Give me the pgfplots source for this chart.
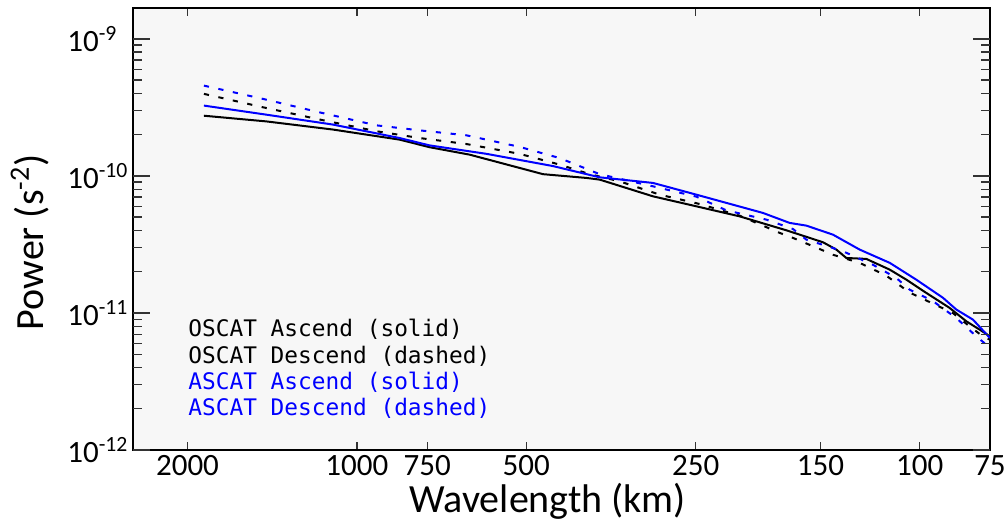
\documentclass[border=0pt]{standalone}
\usepackage{fontspec}
\setmainfont{Carlito}
\newfontfamily\legfont{DejaVu Sans Mono}
\usepackage{pgfplots}
\usepackage{pgfplotstable}
\pgfplotsset{compat=1.18}
\definecolor{bg}{HTML}{F7F7F7}
\definecolor{myblue}{RGB}{0,0,255}

% wavelength lam (km), power P (s^-2); plotted against wavenumber 1/lam

% OSCAT Ascend (solid, black)
\pgfplotstableread{
lam P
1870 2.75e-10
1449 2.50e-10
1103 2.18e-10
839.7 1.84e-10
742.7 1.62e-10
630.5 1.43e-10
467.0 1.03e-10
391.2 9.67e-11
370.4 9.40e-11
297.8 7.10e-11
249.3 6.00e-11
208.9 5.07e-11
172.5 4.01e-11
148.5 3.28e-11
140.6 2.90e-11
135.0 2.52e-11
124.4 2.48e-11
113.0 2.07e-11
105.6 1.75e-11
97.3 1.40e-11
88.5 1.09e-11
82.6 8.69e-12
78.2 7.55e-12
75 6.75e-12
}\oscatasc

% OSCAT Descend (dashed, black)
\pgfplotstableread{
lam P
1870 3.97e-10
1469 3.17e-10
1165 2.58e-10
923.7 2.12e-10
773.6 1.89e-10
639.1 1.71e-10
514.1 1.45e-10
436.3 1.21e-10
385.9 1.03e-10
341.3 9.13e-11
289.7 7.30e-11
246.0 6.24e-11
208.9 5.13e-11
177.3 3.84e-11
167.9 3.53e-11
150.6 2.93e-11
142.6 2.66e-11
127.8 2.32e-11
114.6 1.87e-11
104.2 1.41e-11
94.7 1.17e-11
87.3 1.00e-11
81.5 7.98e-12
77.2 6.75e-12
75 6.38e-12
}\oscatdes

% ASCAT Ascend (solid, blue)
\pgfplotstableread{
lam P
1870 3.26e-10
1449 2.80e-10
1103 2.37e-10
839.7 1.89e-10
742.7 1.67e-10
588.8 1.45e-10
448.3 1.18e-10
370.4 9.77e-11
297.8 8.89e-11
249.3 7.30e-11
189.9 5.37e-11
170.2 4.54e-11
159.0 4.34e-11
142.6 3.73e-11
127.8 2.90e-11
113.0 2.32e-11
101.4 1.75e-11
90.9 1.29e-11
86.1 1.06e-11
80.4 8.94e-12
75 6.57e-12
}\ascatasc

% ASCAT Descend (dashed, blue)
\pgfplotstableread{
lam P
1870 4.56e-10
1469 3.65e-10
1165 2.91e-10
923.7 2.34e-10
773.6 2.15e-10
639.1 1.98e-10
514.1 1.63e-10
436.3 1.35e-10
370.4 1.03e-10
297.8 8.40e-11
249.3 7.06e-11
220.6 5.61e-11
187.3 4.80e-11
167.9 4.10e-11
159.0 3.43e-11
142.6 2.98e-11
135.0 2.75e-11
121.1 2.25e-11
110.0 1.80e-11
104.2 1.48e-11
94.7 1.22e-11
86.1 9.19e-12
79.3 6.75e-12
75 5.58e-12
}\ascatdes

\begin{document}
\begin{tikzpicture}
\begin{axis}[
  at={(0,0)}, anchor=south west, scale only axis,
  width=428.5pt, height=221pt,
  xmode=log, ymode=log,
  xmin=0.0004, xmax=0.0133333, ymin=1e-12, ymax=1.68e-9,
  xtick={0.0005,0.001,0.00133333,0.002,0.004,0.00666667,0.01,0.0133333},
  xticklabels={2000,1000,750,500,250,150,100,75},
  xminorticks=false,
  ytick={1e-12,1e-11,1e-10,1e-9},
  yticklabels={10\textsuperscript{-12},10\textsuperscript{-11},10\textsuperscript{-10},10\textsuperscript{-9}},
  minor ytick={2e-12,3e-12,4e-12,5e-12,6e-12,7e-12,8e-12,9e-12,2e-11,3e-11,4e-11,5e-11,6e-11,7e-11,8e-11,9e-11,2e-10,3e-10,4e-10,5e-10,6e-10,7e-10,8e-10,9e-10},
  axis background/.style={fill=bg},
  axis line style={line width=0.65pt},
  tick style={line width=0.7pt, black!80},
  major tick length=4pt, minor tick length=4pt,
  tick align=inside,
  tick label style={font=\fontsize{15.5}{18}\selectfont},
  xticklabel style={anchor=north, inner sep=0pt, yshift=-2.5pt},
  yticklabel style={anchor=west, inner sep=0pt, xshift=-33pt},
  xlabel={Wavelength (km)},
  ylabel={Power (s\textsuperscript{-2})},
  label style={font=\fontsize{20}{24}\selectfont},
  xlabel style={at={(axis description cs:0.484,-0.1425)}, anchor=base},
  ylabel style={at={(axis description cs:-0.1039,0.47)}, anchor=base},
  clip=true,
]
\addplot[black, line width=1pt] table[x expr=1/\thisrow{lam}, y=P] {\oscatasc};
\addplot[black, line width=1pt, dash pattern=on 2.6pt off 4.8pt] table[x expr=1/\thisrow{lam}, y=P] {\oscatdes};
\addplot[myblue, line width=1pt] table[x expr=1/\thisrow{lam}, y=P] {\ascatasc};
\addplot[myblue, line width=1pt, dash pattern=on 2.6pt off 4.8pt] table[x expr=1/\thisrow{lam}, y=P] {\ascatdes};
% y-axis tick marks (left and right sides, pointing inward)
\pgfplotsinvokeforeach{1e-12,1e-11,1e-10,1e-9}{
  \draw[line width=0.7pt, black!80] (axis cs:0.0004,#1) -- ++(8.5pt,0pt);
  \draw[line width=0.7pt, black!80] (axis cs:0.0133333,#1) -- ++(-8.5pt,0pt);
}
\pgfplotsinvokeforeach{2e-12,3e-12,4e-12,5e-12,6e-12,7e-12,8e-12,9e-12,2e-11,3e-11,4e-11,5e-11,6e-11,7e-11,8e-11,9e-11,2e-10,3e-10,4e-10,5e-10,6e-10,7e-10,8e-10,9e-10}{
  \draw[line width=0.7pt, black!80] (axis cs:0.0004,#1) -- ++(4.7pt,0pt);
  \draw[line width=0.7pt, black!80] (axis cs:0.0133333,#1) -- ++(-4.7pt,0pt);
}
\node[anchor=base west, inner sep=0pt, text=black, font=\legfont\fontsize{11.4}{13}\selectfont] at (axis description cs:0.0642,0.2557) {OSCAT Ascend (solid)};
\node[anchor=base west, inner sep=0pt, text=black, font=\legfont\fontsize{11.4}{13}\selectfont] at (axis description cs:0.0642,0.1968) {OSCAT Descend (dashed)};
\node[anchor=base west, inner sep=0pt, text=myblue, font=\legfont\fontsize{11.4}{13}\selectfont] at (axis description cs:0.0642,0.1380) {ASCAT Ascend (solid)};
\node[anchor=base west, inner sep=0pt, text=myblue, font=\legfont\fontsize{11.4}{13}\selectfont] at (axis description cs:0.0642,0.0792) {ASCAT Descend (dashed)};
\end{axis}
\pgfresetboundingbox
\path[use as bounding box] (-66.5pt,-36pt) rectangle (437pt,225pt);
\end{tikzpicture}
\end{document}
